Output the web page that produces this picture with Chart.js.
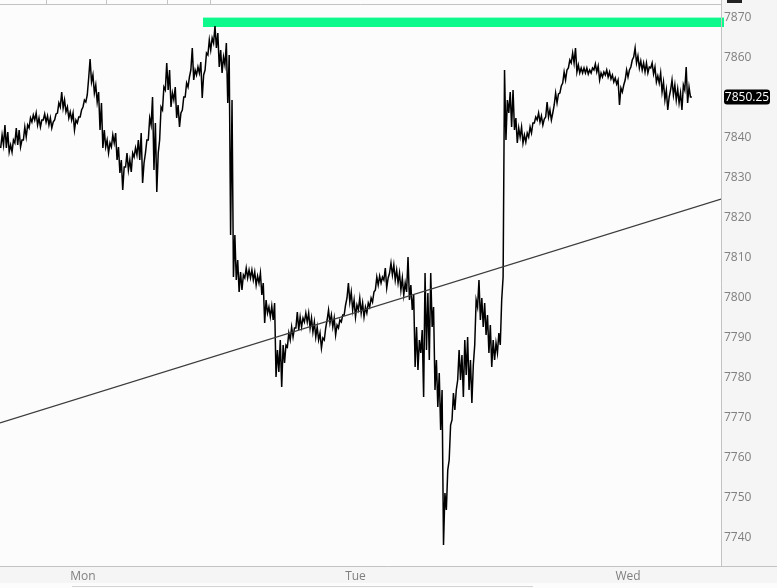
<!DOCTYPE html>
<html>
<head>
<meta charset="utf-8">
<script src="https://cdn.jsdelivr.net/npm/chart.js@4.4.1/dist/chart.umd.min.js"></script>
<style>
html, body { margin: 0; padding: 0; background: #f6f6f6; }
#wrap { width: 777px; height: 588px; position: relative; }
</style>
</head>
<body>
<div id="wrap"><canvas id="chart" width="777" height="588"></canvas></div>
<script>
// one high/low pair every 15 minutes, time in hours from Mon 00:00
var firstHour = -7.25;
var stepHours = 0.25;

var tickHigh = [
  7840.75, 7843.25, 7841.5, 7838.25, 7839.5, 7842.5, 7842, 7839.5, 7842.75, 7843.25,
  7845, 7845.75, 7846.25, 7845, 7844.5, 7846, 7845.5, 7845, 7844, 7846,
  7848.75, 7851.5, 7849.5, 7847.75, 7846.5, 7846.25, 7844.5, 7845.25, 7847, 7849.5,
  7850.75, 7859.75, 7855.75, 7853.25, 7851.5, 7848.75, 7842, 7839.5, 7838.75, 7840.75,
  7841.25, 7837.75, 7834.5, 7832.75, 7836.25, 7834.5, 7836.25, 7837.5, 7839.5, 7841.25,
  7833.75, 7839.5, 7845, 7850.25, 7843.75, 7836.25, 7847.75, 7852.75, 7858.75, 7857,
  7851.25, 7852.75, 7848.25, 7846.25, 7850.25, 7853.75, 7855.25, 7862.5, 7857, 7857.75,
  7859, 7855.75, 7861.25, 7864.5, 7865, 7868, 7866.25, 7862, 7860.25, 7863.75,
  7860.75, 7849.5, 7815.75, 7809.5, 7806.5, 7805.75, 7807.5, 7807, 7807, 7806.5,
  7805.5, 7806.25, 7803.75, 7799.5, 7797.75, 7798, 7798.75, 7787, 7789.5, 7788.25,
  7788.25, 7791.25, 7792.75, 7792.5, 7796.5, 7795.25, 7795, 7796.25, 7796.25, 7795,
  7794, 7792.75, 7791.25, 7790, 7792.5, 7797, 7795.75, 7795, 7793.25, 7794.5,
  7795.75, 7798.25, 7803.75, 7801.5, 7799.5, 7798.25, 7800, 7798.75, 7797.75, 7798.75,
  7800, 7801.5, 7805.25, 7805.5, 7805.25, 7807.5, 7805, 7808.75, 7808.25, 7807,
  7806.25, 7805, 7803.75, 7810.25, 7803.25, 7800.75, 7792.75, 7789.5, 7792, 7806.25,
  7801.25, 7806.25, 7797.75, 7784.5, 7781.25, 7777, 7751.25, 7757, 7768.25, 7776.25,
  7777, 7787, 7785.75, 7789.5, 7790.25, 7784.5, 7783.25, 7799.5, 7804.5, 7800,
  7798.75, 7795.75, 7793.25, 7789.5, 7788.75, 7791.25, 7799.5, 7857, 7849.5, 7851.5,
  7852, 7845, 7842.5, 7842.75, 7840.75, 7841.25, 7842.75, 7843.75, 7845.25, 7846.25,
  7845.5, 7844.75, 7849, 7847, 7846.25, 7851.25, 7851, 7853, 7856.5, 7857,
  7859.5, 7861.25, 7862.5, 7858.25, 7857.5, 7857.5, 7857.5, 7857, 7857.5, 7858.5,
  7858, 7856.25, 7856.5, 7857, 7856.5, 7855.75, 7855, 7854.5, 7852.5, 7853.25,
  7857, 7857, 7859.5, 7862.5, 7860.5, 7859.25, 7858.75, 7858.75, 7857.75, 7858.75,
  7857.75, 7855.5, 7856.25, 7854, 7852, 7850.25, 7854.5, 7853.25, 7852.25, 7851.25,
  7853.25, 7857.75, 7852.75, 7850.25
];
var tickLow = [
  7837.5, 7838.25, 7837.5, 7836.5, 7836.5, 7838.75, 7838.25, 7837.75, 7839.5, 7840.25,
  7842.5, 7844, 7844.5, 7843.25, 7842.75, 7844.5, 7844, 7843.25, 7842.5, 7844.5,
  7846.25, 7847.75, 7847.5, 7846.5, 7845, 7844.5, 7842, 7843.75, 7845.25, 7847.75,
  7849, 7855, 7854, 7851.25, 7849, 7842, 7837.5, 7837.75, 7836.25, 7837.75,
  7838.75, 7834.5, 7831.25, 7827, 7832.75, 7832, 7831.5, 7835.25, 7835.75, 7834.5,
  7828.75, 7836.25, 7839.5, 7843.25, 7832, 7826.5, 7839.5, 7847, 7852, 7852,
  7847.75, 7849.5, 7845, 7842.75, 7847, 7850.25, 7852.75, 7857, 7854.5, 7855.75,
  7856.25, 7850, 7857, 7860.75, 7862, 7863.75, 7862.5, 7857.75, 7856.25, 7858.25,
  7848.75, 7815.75, 7805.25, 7804.5, 7801.5, 7802, 7805, 7805, 7805, 7804.5,
  7803.25, 7803.75, 7800.75, 7793.75, 7796.25, 7795.25, 7794.5, 7780.25, 7781.5, 7777.75,
  7783.75, 7787.75, 7789.5, 7790.25, 7792.5, 7792, 7792.75, 7794, 7794, 7792.5,
  7791.5, 7790.25, 7789.5, 7787.5, 7789.5, 7794.5, 7793.75, 7792.75, 7790.75, 7792.5,
  7794, 7795.75, 7800, 7799, 7797, 7795.25, 7797, 7796.25, 7795.25, 7796.25,
  7797.75, 7799, 7802, 7803.25, 7803.75, 7804.5, 7802.5, 7806.25, 7805.75, 7804.5,
  7803.75, 7802, 7800.75, 7801.5, 7799.5, 7797, 7782.75, 7782, 7786.25, 7775.25,
  7787, 7784.5, 7792.75, 7777, 7772.75, 7767, 7738.25, 7747, 7759.5, 7769.5,
  7772, 7779.5, 7779.5, 7775.25, 7780.75, 7777, 7773.75, 7788.25, 7797.75, 7794.5,
  7792.75, 7790.75, 7786.25, 7782.75, 7784.5, 7786.25, 7788.25, 7805.25, 7839.5, 7846.25,
  7842.75, 7842, 7838.75, 7840.25, 7838.75, 7839, 7840.25, 7841.25, 7843.75, 7844.5,
  7844, 7843.25, 7845.25, 7845.25, 7844.5, 7848.25, 7848.75, 7851.25, 7853.75, 7854.5,
  7857.5, 7858.75, 7858.75, 7856.5, 7856.25, 7856.25, 7856.25, 7856, 7856.25, 7857,
  7856.5, 7854.5, 7855.25, 7855.75, 7855.25, 7854.75, 7854, 7853.5, 7848.25, 7851.5,
  7854.5, 7855.25, 7857.75, 7860.25, 7858.75, 7857.5, 7857, 7856.5, 7856.25, 7857.5,
  7856, 7854, 7853.75, 7851.5, 7849.5, 7847, 7852, 7850.75, 7849.5, 7848.75,
  7847, 7852, 7848.75, 7850.25
];
var lastPrice = 7850.25;

var dayHours = [0, 24, 48];
var dayNames = ['Mon', 'Tue', 'Wed'];
var priceTicks = [7740, 7750, 7760, 7770, 7780, 7790, 7800, 7810, 7820, 7830, 7840, 7850, 7860, 7870];

var hourRange = [-7.31, 56.19];
var priceRange = [7733, 7873.5];

// resistance band and the rising trend line
var zoneFromHour = 10.57;
var zoneLow = 7867.75;
var zoneHigh = 7870.1;
var trendValues = [7768.75, 7824.75];

var pricePoints = [];
for (var i = 0; i < tickHigh.length; i++) {
  var h = firstHour + i * stepHours;
  pricePoints.push({ x: h, y: tickLow[i] });
  pricePoints.push({ x: h + stepHours / 2, y: tickHigh[i] });
}

var labelFont = { family: '"Open Sans", "DejaVu Sans", sans-serif', size: 12 };

var panelPlugin = {
  id: 'panel',
  beforeDraw: function (chart) {
    var c = chart.ctx, a = chart.chartArea;
    c.save();
    c.fillStyle = '#f5f5f5';
    c.fillRect(0, 0, chart.width, chart.height);
    c.fillStyle = '#fcfcfc';
    c.fillRect(a.left, a.top, a.right - a.left, a.bottom - a.top);
    c.fillRect(0, 0, a.right, a.top);
    c.fillRect(0, chart.height - 5, chart.width, 5);
    c.restore();
  },
  beforeDatasetsDraw: function (chart) {
    var c = chart.ctx, a = chart.chartArea;
    var xs = chart.scales.x, ys = chart.scales.y;
    var x0 = xs.getPixelForValue(zoneFromHour);
    var yTop = ys.getPixelForValue(zoneHigh);
    var yBot = ys.getPixelForValue(zoneLow);
    c.save();
    c.fillStyle = '#0ef98b';
    c.fillRect(x0, yTop, a.right + 3 - x0, yBot - yTop);
    c.restore();
  },
  afterDraw: function (chart) {
    var c = chart.ctx, a = chart.chartArea;
    c.save();
    c.strokeStyle = '#c3c3c3';
    c.lineWidth = 1;
    c.beginPath();
    c.moveTo(0, a.top + 0.5); c.lineTo(a.right + 0.5, a.top + 0.5);
    c.moveTo(a.right + 0.5, 0); c.lineTo(a.right + 0.5, a.bottom + 0.5);
    c.moveTo(0, a.bottom + 0.5); c.lineTo(chart.width, a.bottom + 0.5);
    [46.5, 106.5, 167.5, 210.5].forEach(function (x) { c.moveTo(x, 0); c.lineTo(x, a.top); });
    c.stroke();
    c.strokeStyle = '#d4d4d4';
    c.beginPath();
    c.moveTo(72, chart.height - 1.5); c.lineTo(533, chart.height - 1.5);
    c.stroke();
    c.fillStyle = '#222';
    c.fillRect(727, 0, 15, 3);

    // last price tag
    var y = chart.scales.y.getPixelForValue(lastPrice);
    var x = a.right + 3, w = 46, hgt = 15, r = 3;
    c.fillStyle = '#000';
    c.beginPath();
    c.moveTo(x + r, y - hgt / 2);
    c.arcTo(x + w, y - hgt / 2, x + w, y + hgt / 2, r);
    c.arcTo(x + w, y + hgt / 2, x, y + hgt / 2, r);
    c.arcTo(x, y + hgt / 2, x, y - hgt / 2, r);
    c.arcTo(x, y - hgt / 2, x + w, y - hgt / 2, r);
    c.closePath();
    c.fill();
    c.fillStyle = '#fff';
    c.font = '12px ' + labelFont.family;
    c.textAlign = 'center';
    c.textBaseline = 'middle';
    c.fillText(lastPrice.toFixed(2), x + w / 2, y + 0.5);
    c.restore();
  }
};

var chart = new Chart(document.getElementById('chart').getContext('2d'), {
  type: 'line',
  data: {
    datasets: [{
      data: pricePoints,
      borderColor: '#000',
      borderWidth: 1.5,
      pointRadius: 0,
      tension: 0,
      order: 2
    }, {
      data: [{ x: hourRange[0], y: trendValues[0] }, { x: hourRange[1], y: trendValues[1] }],
      borderColor: '#3c3c3c',
      borderWidth: 1.2,
      pointRadius: 0,
      order: 1
    }]
  },
  options: {
    responsive: false,
    animation: false,
    events: [],
    layout: { padding: { top: 4, left: 0, right: 0, bottom: 0 } },
    plugins: { legend: { display: false }, tooltip: { enabled: false } },
    scales: {
      x: {
        type: 'linear',
        min: hourRange[0],
        max: hourRange[1],
        grid: { display: false, drawTicks: false },
        border: { display: false },
        afterBuildTicks: function (s) { s.ticks = dayHours.map(function (v) { return { value: v }; }); },
        afterFit: function (s) { s.height = 22; s.paddingLeft = 0; s.paddingRight = 0; },
        ticks: {
          autoSkip: false,
          maxRotation: 0,
          padding: 3,
          color: '#7f7f7f',
          font: labelFont,
          callback: function (v) { return dayNames[dayHours.indexOf(v)]; }
        }
      },
      y: {
        type: 'linear',
        position: 'right',
        min: priceRange[0],
        max: priceRange[1],
        grid: { display: false, drawTicks: false },
        border: { display: false },
        afterBuildTicks: function (s) { s.ticks = priceTicks.map(function (v) { return { value: v }; }); },
        afterFit: function (s) { s.width = 56; s.paddingTop = 0; s.paddingBottom = 0; },
        ticks: {
          padding: 3,
          color: '#7f7f7f',
          font: labelFont,
          callback: function (v) { return String(v); }
        }
      }
    }
  },
  plugins: [panelPlugin]
});
</script>
</body>
</html>
